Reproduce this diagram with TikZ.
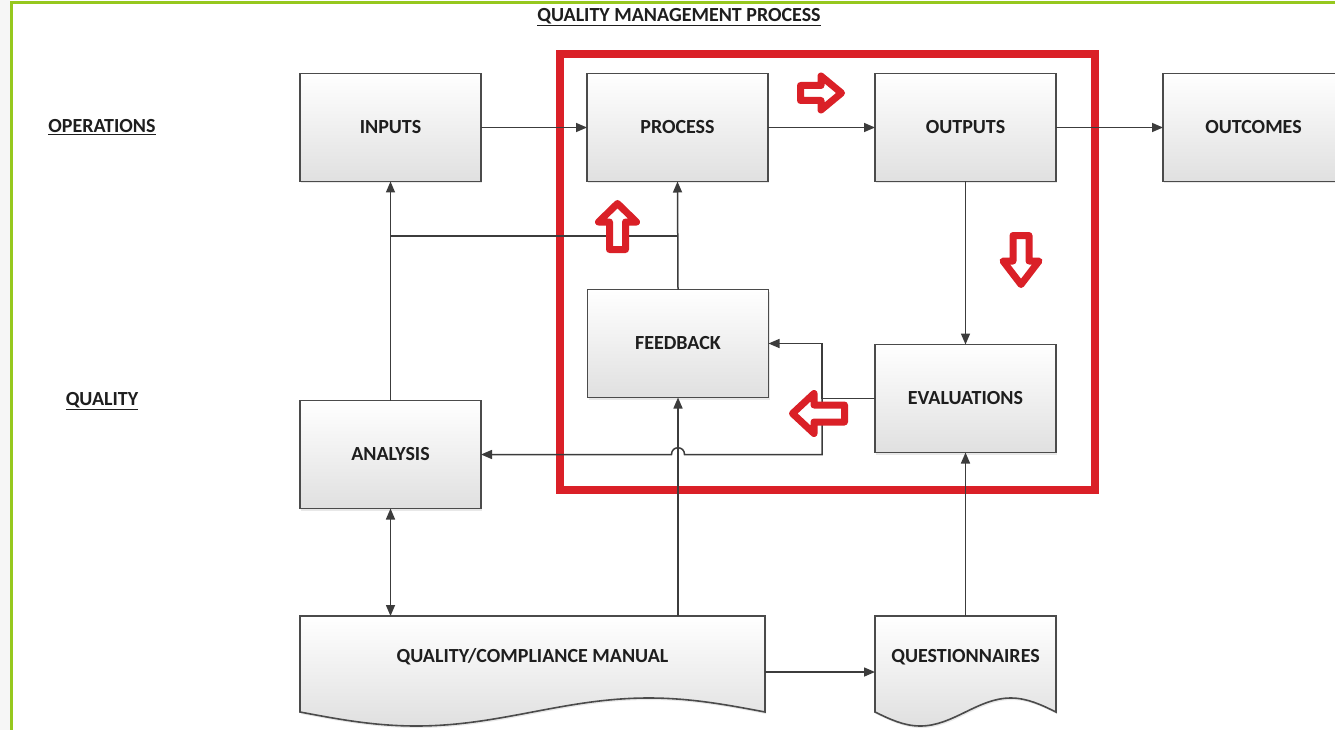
\documentclass[tikz,border=0pt]{standalone}
\usepackage{fontspec}
\setmainfont{Carlito}
\usetikzlibrary{arrows.meta,shadows,calc}
\definecolor{qred}{RGB}{218,32,39}
\definecolor{qgreen}{RGB}{150,200,30}
\definecolor{qline}{RGB}{60,60,60}
\definecolor{qbord}{RGB}{75,75,75}
\definecolor{qgray}{RGB}{224,224,224}
\definecolor{qtext}{RGB}{30,30,30}
\begin{document}
\begin{tikzpicture}[x=1pt,y=-1pt,
  font=\fontsize{20}{24}\selectfont\bfseries,
  box/.style={draw=qbord, line width=1.6pt, top color=white, bottom color=qgray,
    minimum width=181pt, minimum height=108pt, inner sep=0pt, outer sep=0pt, text=qtext,
    drop shadow={opacity=0.18, shadow xshift=1pt, shadow yshift=-2pt}},
  docnode/.style={minimum height=82pt, inner sep=0pt, outer sep=0pt, text=qtext},
  docshape/.style={draw=qbord, line width=1.6pt, top color=white, bottom color=qgray},
  conn/.style={draw=qline, line width=1.5pt, -{Triangle[length=11pt,width=9pt]}},
  wire/.style={draw=qline, line width=1.5pt},
  redarrow/.style={draw=qred, line width=7pt, fill=white, line join=round},
  lbl/.style={inner sep=0pt, text=qtext}
]
\useasboundingbox (0,0) rectangle (1335,730);
\clip (0,0) rectangle (1335,730);
\fill[white] (0,0) rectangle (1335,730);
\fill[gray!7] (0,0) rectangle (10,730);
% green frame
\draw[qgreen, line width=3pt] (11,730) -- (11,3) -- (1340,3);

% labels
\node[lbl] (title) at (679,17) {\underline{QUALITY MANAGEMENT PROCESS}};
\node[lbl] (ops) at (102,127) {\underline{OPERATIONS}};
\node[lbl] (qual) at (102,401) {\underline{QUALITY}};

% red frame
\draw[qred, line width=8pt] (559.5,54) rectangle (1095,490);

% boxes
\node[box] (inputs) at (390.5,127.5) {INPUTS};
\node[box] (process) at (677.5,127.5) {PROCESS};
\node[box] (outputs) at (965.5,127.5) {OUTPUTS};
\node[box] (outcomes) at (1253.5,127.5) {OUTCOMES};
\node[box] (feedback) at (678,343.5) {FEEDBACK};
\node[box] (evaluations) at (965.5,398.5) {EVALUATIONS};
\node[box] (analysis) at (390.5,454.5) {ANALYSIS};

% document shapes
\node[docnode, minimum width=465pt] (manual) at (532.5,657) {};
\path[docshape, drop shadow={opacity=0.18, shadow xshift=1pt, shadow yshift=-2pt}]
  (manual.north west) -- (manual.north east) -- ([yshift=-14pt]manual.south east)
  sin ++(-116.25,-14) cos ++(-116.25,14) sin ++(-116.25,14) cos ++(-116.25,-14) -- cycle;
\node[docnode, minimum width=465pt] at (manual) {QUALITY/COMPLIANCE MANUAL};
\node[docnode, minimum width=181pt] (quest) at (965.5,657) {};
\path[docshape, drop shadow={opacity=0.18, shadow xshift=1pt, shadow yshift=-2pt}]
  (quest.north west) -- (quest.north east) -- ([yshift=-14pt]quest.south east)
  sin ++(-45.25,-14) cos ++(-45.25,14) sin ++(-45.25,14) cos ++(-45.25,-14) -- cycle;
\node[docnode, minimum width=181pt] at (quest) {QUESTIONNAIRES};

% helper coordinates
\coordinate (y236) at (0,236);
\coordinate (j) at (822,398.5);
\coordinate (hopR) at ($(feedback.south |- analysis.east)+(6.5,0)$);
\coordinate (hopL) at ($(feedback.south |- analysis.east)+(-6.5,0)$);

% connectors
\draw[conn] (inputs.east) -- (process.west);
\draw[conn] (process.east) -- (outputs.west);
\draw[conn] (outputs.east) -- (outcomes.west);
\draw[conn] (outputs.south) -- (evaluations.north);
\draw[wire] (evaluations.west) -- (j);
\draw[conn] (j) |- (feedback.east);
\draw[conn] (j) |- (hopR) .. controls +(0,-9) and +(0,-9) .. (hopL) -- (analysis.east);
\draw[conn] (feedback.north) -- (process.south);
\draw[conn] (analysis.north) -- (inputs.south);
\draw[wire] (analysis.north |- y236) -- (feedback.north |- y236);
\draw[{Triangle[length=11pt,width=9pt]}-{Triangle[length=11pt,width=9pt]}, draw=qline, line width=1.5pt]
  (analysis.south) -- (analysis.south |- manual.north);
\draw[conn] (feedback.south |- manual.north) -- (feedback.south);
\draw[conn] ([yshift=-15pt]manual.east) -- ([yshift=-15pt]quest.west);
\draw[conn] (quest.north) -- (evaluations.south);

% red block arrows
\draw[redarrow] (800.5,85.5) -- (821,85.5) -- (821,76) -- (841.5,93) -- (821,110) -- (821,100.5) -- (800.5,100.5) -- cycle;
\draw[redarrow] (609.5,249.5) -- (609.5,222) -- (598.5,222) -- (617.5,203.5) -- (636.5,222) -- (625.5,222) -- (625.5,249.5) -- cycle;
\draw[redarrow] (1013,235.5) -- (1013,261) -- (1003,261) -- (1021,284.5) -- (1039,261) -- (1029,261) -- (1029,235.5) -- cycle;
\draw[redarrow] (844.5,405) -- (814,405) -- (814,393.5) -- (792.5,413.5) -- (814,433.5) -- (814,422) -- (844.5,422) -- cycle;
\end{tikzpicture}
\end{document}
